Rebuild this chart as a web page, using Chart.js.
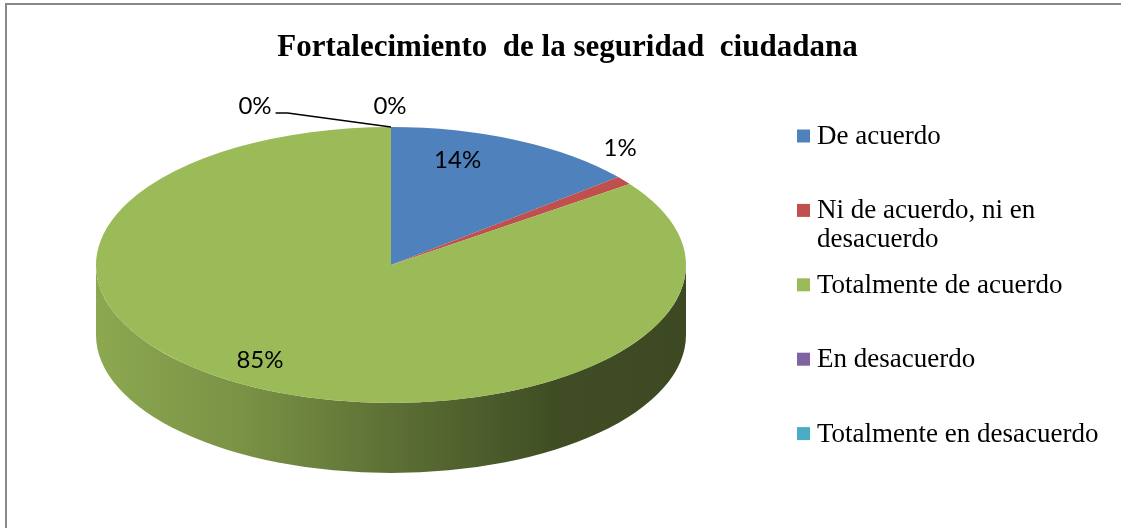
<!DOCTYPE html>
<html>
<head>
<meta charset="utf-8">
<script src="https://cdn.jsdelivr.net/npm/chart.js@4/dist/chart.umd.min.js"></script>
<style>
  html, body { margin: 0; padding: 0; background: #ffffff; }
  #wrap { width: 1121px; height: 528px; position: relative; }
</style>
</head>
<body>
<div id="wrap"><canvas id="c" width="1121" height="528"></canvas></div>
<script>
// ---- data ----
const chartTitle = 'Fortalecimiento  de la seguridad  ciudadana';
const categories = ['De acuerdo', 'Ni de acuerdo, ni en desacuerdo', 'Totalmente de acuerdo', 'En desacuerdo', 'Totalmente en desacuerdo'];
const values = [14, 1, 85, 0, 0];
const sliceColors = ['#4F81BD', '#C0504D', '#9BBB59', '#8064A2', '#4BACC6'];

// ---- 3D look (layout only) ----
const geo = { cx: 391, cy: 265, rx: 295, ry: 138, depth: 70 };
// label placement: radial factor on the ellipse + nudge (layout only)
const labelPlace = [
  { f: 0.65, dx: -15, dy: -24 },
  { f: 1.0,  dx: -4,  dy: -32 },
  { f: 0.65, dx: -44, dy: 15 },
  { f: 1.0,  dx: -1,  dy: -21 },
  { f: 1.0,  dx: -136, dy: -21, leader: true }
];

function hexToRgb(h) {
  const n = parseInt(h.slice(1), 16);
  return [(n >> 16) & 255, (n >> 8) & 255, n & 255];
}
function shade(h, k) {
  const c = hexToRgb(h);
  return 'rgb(' + c.map(v => Math.round(v * k)).join(',') + ')';
}

const frame = {
  id: 'frame',
  beforeDraw(chart) {
    const ctx = chart.ctx;
    ctx.save();
    ctx.fillStyle = '#ffffff';
    ctx.fillRect(0, 0, chart.width, chart.height);
    ctx.fillStyle = '#898989';
    ctx.fillRect(5, 3, 2, chart.height);
    ctx.fillRect(5, 3, chart.width, 2);
    ctx.restore();
  }
};

const pie3d = {
  id: 'pie3d',
  beforeDatasetsDraw(chart) {
    const ctx = chart.ctx;
    const meta = chart.getDatasetMeta(0);
    const arcs = meta.data;
    if (!arcs.length) return;
    const { cx, cy, rx, ry, depth } = geo;
    // side walls (front half only)
    arcs.forEach((arc, i) => {
      let s = arc.startAngle, e = arc.endAngle;
      if (e - s <= 0) return;
      const windows = [[0, Math.PI], [2 * Math.PI, 3 * Math.PI], [-2 * Math.PI, -Math.PI]];
      windows.forEach(([w0, w1]) => {
        const a1 = Math.max(s, w0), a2 = Math.min(e, w1);
        if (a2 <= a1) return;
        const col = chart.data.datasets[0].backgroundColor[i];
        const g = ctx.createLinearGradient(cx - rx, 0, cx + rx, 0);
        g.addColorStop(0, shade(col, 0.9));
        g.addColorStop(0.25, shade(col, 0.78));
        g.addColorStop(0.5, shade(col, 0.6));
        g.addColorStop(0.78, shade(col, 0.41));
        g.addColorStop(1, shade(col, 0.39));
        ctx.save();
        ctx.beginPath();
        ctx.ellipse(cx, cy, rx, ry, 0, a1, a2, false);
        ctx.ellipse(cx, cy + depth, rx, ry, 0, a2, a1, true);
        ctx.closePath();
        ctx.fillStyle = g;
        ctx.fill();
        ctx.restore();
      });
    });
    // squash the library's circle into the top ellipse
    const a0 = arcs[0];
    const R = a0.outerRadius;
    ctx.save();
    ctx.translate(cx, cy);
    ctx.scale(rx / R, ry / R);
    ctx.translate(-a0.x, -a0.y);
  },
  afterDatasetsDraw(chart) {
    const ctx = chart.ctx;
    ctx.restore();
    const meta = chart.getDatasetMeta(0);
    const data = chart.data.datasets[0].data;
    const total = data.reduce((a, b) => a + b, 0);
    const { cx, cy, rx, ry } = geo;
    ctx.save();
    ctx.font = '24px Lato';
    ctx.fillStyle = '#000000';
    ctx.textAlign = 'center';
    ctx.textBaseline = 'middle';
    meta.data.forEach((arc, i) => {
      const p = labelPlace[i];
      const m = (arc.startAngle + arc.endAngle) / 2;
      const ax = cx + rx * Math.cos(m), ay = cy + ry * Math.sin(m);
      const x = cx + p.f * rx * Math.cos(m) + p.dx;
      const y = cy + p.f * ry * Math.sin(m) + p.dy;
      const txt = Math.round(data[i] / total * 100) + '%';
      ctx.fillText(txt, x, y);
      if (p.leader) {
        const w = ctx.measureText(txt).width;
        ctx.beginPath();
        ctx.strokeStyle = '#000000';
        ctx.lineWidth = 1.5;
        ctx.moveTo(x + w / 2 + 4, y + 7);
        ctx.lineTo(x + w / 2 + 16, y + 7);
        ctx.lineTo(ax, ay);
        ctx.stroke();
      }
    });
    ctx.restore();
  }
};

const sideLegend = {
  id: 'sideLegend',
  afterDraw(chart) {
    const ctx = chart.ctx;
    const labels = chart.data.labels;
    const cols = chart.data.datasets[0].backgroundColor;
    const x0 = 797, box = 13, textX = 817, y0 = 136, step = 74.4, lineH = 29, maxW = 290;
    ctx.save();
    ctx.font = '27px "Liberation Serif"';
    ctx.fillStyle = '#000';
    ctx.textAlign = 'left';
    ctx.textBaseline = 'alphabetic';
    labels.forEach((lab, i) => {
      const yc = y0 + i * step;
      ctx.fillStyle = cols[i];
      ctx.fillRect(x0, yc - box / 2, box, box);
      // wrap
      const words = lab.split(' ');
      const lines = [];
      let cur = '';
      words.forEach(w => {
        const t = cur ? cur + ' ' + w : w;
        if (ctx.measureText(t).width > maxW && cur) { lines.push(cur); cur = w; }
        else cur = t;
      });
      if (cur) lines.push(cur);
      ctx.fillStyle = '#000';
      lines.forEach((ln, j) => ctx.fillText(ln, textX, yc + 8 + j * lineH));
    });
    ctx.restore();
  }
};

new Chart(document.getElementById('c'), {
  type: 'pie',
  data: {
    labels: categories,
    datasets: [{
      data: values,
      backgroundColor: sliceColors,
      borderWidth: 0,
      clip: false
    }]
  },
  options: {
    responsive: false,
    devicePixelRatio: 1,
    animation: false,
    layout: { padding: { left: 14 } },
    plugins: {
      legend: { display: false },
      tooltip: { enabled: false },
      title: {
        display: true,
        text: chartTitle,
        color: '#000000',
        font: { family: 'Liberation Serif', size: 31, weight: 'bold' },
        padding: { top: 29, bottom: 10 }
      }
    }
  },
  plugins: [frame, pie3d, sideLegend]
});
</script>
</body>
</html>
